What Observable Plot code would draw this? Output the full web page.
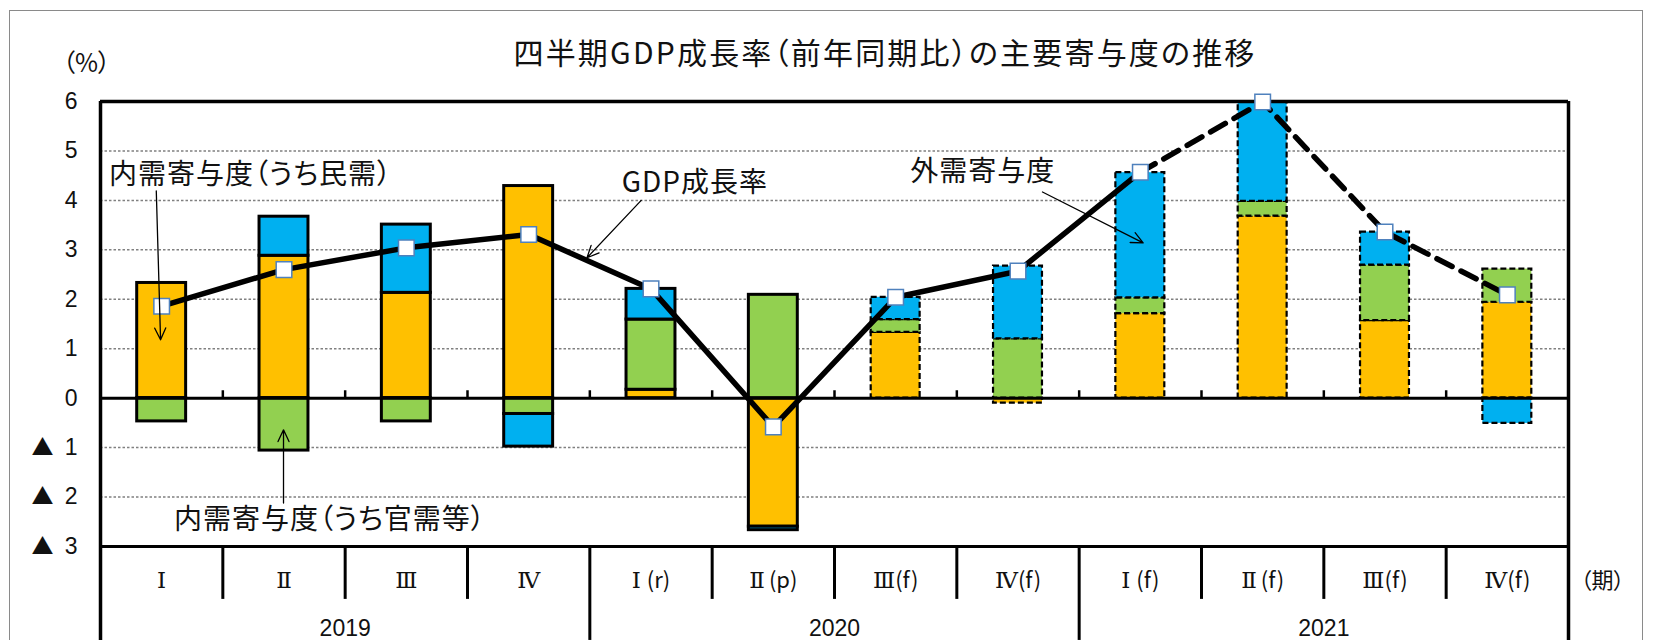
<!DOCTYPE html>
<html><head><meta charset="utf-8">
<script src="https://cdn.jsdelivr.net/npm/d3@7"></script>
<script src="https://cdn.jsdelivr.net/npm/@observablehq/plot@0.6"></script>
<style>
html,body{margin:0;padding:0;background:#fff;overflow:hidden;}
#wrap{position:relative;width:1656px;height:640px;}
#frame{position:absolute;left:9px;top:10px;width:1634px;height:700px;border:1.5px solid #8a8a8a;box-sizing:border-box;}
#title{position:absolute;left:885px;top:35px;transform:translateX(-50%);white-space:nowrap;font-family:"Noto Sans CJK JP";font-size:30px;line-height:32px;color:#111;font-feature-settings:"palt";letter-spacing:2.2px;}
#chart{position:absolute;left:0;top:0;}
#chart svg text{font-feature-settings:"palt";}
</style></head>
<body><div id="wrap"><div id="frame"></div><div id="chart"></div><div id="title">四半期GDP成長率（前年同期比）の主要寄与度の推移</div></div>
<script>
// ---- data ----
const quarters = ["Ⅰ","Ⅱ","Ⅲ","Ⅳ","Ⅰ(r)","Ⅱ(p)","Ⅲ(f)","Ⅳ(f)","Ⅰ(f)","Ⅱ(f)","Ⅲ(f)","Ⅳ(f)"];
const years = ["2019","2020","2021"];
const forecast = [false,false,false,false,false,false,true,true,true,true,true,true];
const privateDemand = [2.33, 2.88, 2.13, 4.29, 0.17, -2.60, 1.33, -0.10, 1.71, 3.68, 1.57, 1.94];
const publicDemand  = [-0.47, -1.06, -0.47, -0.32, 1.42, 2.09, 0.26, 1.20, 0.32, 0.30, 1.12, 0.67];
const externalDemand = [0, 0.79, 1.38, -0.66, 0.62, -0.07, 0.45, 1.47, 2.53, 2.01, 0.67, -0.51];
const gdpGrowth = [1.86, 2.60, 3.04, 3.31, 2.21, -0.58, 2.04, 2.57, 4.57, 5.99, 3.36, 2.09];
const yTickValues = [6,5,4,3,2,1,0,-1,-2,-3];
const yTickLabels = ["6","5","4","3","2","1","0","▲ 1","▲ 2","▲ 3"];
const gridValues = [5,4,3,2,1,-1,-2];
const seriesColors = ["#FFC000","#92D050","#00B0F0"];
const labels = [
  {text:"内需寄与度（うち民需）", x:-0.43, y:4.52},
  {text:"内需寄与度（うち官需等）", x:0.10, y:-2.47},
  {text:"GDP成長率", x:3.76, y:4.36},
  {text:"外需寄与度", x:6.12, y:4.57}
];
const arrows = [
  {x1:-0.044, y1:4.19, x2:-0.009, y2:1.18},
  {x1:0.996, y1:-2.12, x2:0.996, y2:-0.64},
  {x1:3.92, y1:4.00, x2:3.477, y2:2.84},
  {x1:7.20, y1:4.17, x2:8.023, y2:3.14}
];

// ---- derived ----
const series = [privateDemand, publicDemand, externalDemand];
const segs = [];
quarters.forEach((q, i) => {
  let pos = 0, neg = 0;
  series.forEach((s, k) => {
    const v = s[i];
    if (v === 0) return;
    if (v > 0) { segs.push({i, y1: pos, y2: pos + v, fill: seriesColors[k], f: forecast[i]}); pos += v; }
    else { segs.push({i, y1: neg, y2: neg + v, fill: seriesColors[k], f: forecast[i]}); neg += v; }
  });
});
const gdp = gdpGrowth.map((v, i) => ({i, v}));
const idx = quarters.map((q, i) => i);
const yTicks = yTickValues.map((v, i) => {
  const parts = yTickLabels[i].split(" ");
  return {v, num: parts[parts.length - 1], tri: parts.length > 1 ? parts[0] : null};
});
const qBounds = d3.range(0.5, 11, 1);
const yearBounds = [3.5, 7.5];
const innerBounds = qBounds.filter(b => !yearBounds.includes(b));
const yBottom = -4.9, yQRow = -4.07, halfW = 0.2;
const numFont = "Liberation Sans, Noto Sans CJK JP";
const jpFont = "Noto Sans CJK JP";

const chart = Plot.plot({
  width: 1656, height: 640,
  marginLeft: 100, marginRight: 88, marginTop: 101, marginBottom: 94,
  x: {type: "linear", domain: [-0.5, 11.5], axis: null},
  y: {domain: [-3, 6], axis: null},
  color: {type: "identity"},
  style: {fontFamily: jpFont, overflow: "visible", background: "transparent"},
  marks: [
    Plot.ruleY(gridValues, {stroke: "#808080", strokeWidth: 1.5, strokeDasharray: "2.5,2"}),
    Plot.rect(segs.filter(d => !d.f), {x1: d => d.i - halfW, x2: d => d.i + halfW, y1: "y1", y2: "y2", fill: "fill", stroke: "black", strokeWidth: 3}),
    Plot.rect(segs.filter(d => d.f), {x1: d => d.i - halfW, x2: d => d.i + halfW, y1: "y1", y2: "y2", fill: "fill", stroke: "black", strokeWidth: 2.2, strokeDasharray: "6,3"}),
    Plot.ruleY([0], {stroke: "black", strokeWidth: 3}),
    Plot.ruleX(qBounds, {y1: 0, y2: 0.15, stroke: "black", strokeWidth: 2.5}),
    Plot.ruleY([6], {stroke: "black", strokeWidth: 3.5}),
    Plot.ruleY([-3], {stroke: "black", strokeWidth: 3}),
    Plot.ruleX([-0.5, 11.5], {y1: 6, y2: yBottom, stroke: "black", strokeWidth: 3.5}),
    Plot.ruleX(innerBounds, {y1: -3, y2: yQRow, stroke: "black", strokeWidth: 3}),
    Plot.ruleX(yearBounds, {y1: -3, y2: yBottom, stroke: "black", strokeWidth: 3}),
    Plot.line(gdp.filter(d => d.i <= 8), {x: "i", y: "v", stroke: "black", strokeWidth: 5.5}),
    Plot.line(gdp.filter(d => d.i >= 8), {x: "i", y: "v", stroke: "black", strokeWidth: 5.5, strokeDasharray: "17,10"}),
    Plot.dot(gdp, {x: "i", y: "v", symbol: "square", r: 8.8, fill: "white", stroke: "#4F81BD", strokeWidth: 1.5}),
    Plot.arrow(arrows, {x1: "x1", y1: "y1", x2: "x2", y2: "y2", stroke: "black", strokeWidth: 1.3, headLength: 15, headAngle: 50}),
    Plot.text(labels, {x: "x", y: "y", text: "text", textAnchor: "start", fontSize: 28, fill: "#111", className: "anno"}),
    Plot.text(yTicks, {x: -0.5, y: "v", text: "num", textAnchor: "end", dx: -23, fontSize: 23, fontFamily: numFont, fill: "#111"}),
    Plot.text(yTicks.filter(d => d.tri), {x: -0.5, y: "v", text: "tri", dx: -58, fontSize: 22, fontFamily: jpFont, fill: "#111"}),
    Plot.text(["（%）"], {x: -0.5, y: 6, text: d => d, dx: -14, dy: -38, fontSize: 25, fill: "#111"}),
    Plot.text(idx, {x: d => d, y: -3.69, text: d => quarters[d], fontSize: 22, fill: "#111", className: "qlab"}),
    Plot.text(years, {x: (d, i) => 1.5 + 4 * i, y: -4.66, text: d => d, fontSize: 23, fontFamily: numFont, fill: "#111"}),
    Plot.text(["（期）"], {x: 11.5, y: -3.69, text: d => d, dx: 34, fontSize: 22, fill: "#111"})
  ]
});
d3.select(chart).selectAll(".anno text").style("letter-spacing", "1px");
// style the Roman numerals in a serif face, keep the suffix in sans
const numeralGap = {"Ⅰ": 6, "Ⅱ": 4, "Ⅲ": 0, "Ⅳ": 0};
d3.select(chart).selectAll(".qlab text").each(function() {
  const t = d3.select(this);
  const s = t.text();
  const num = s.slice(0, 1), rest = s.slice(1);
  t.text(null);
  t.append("tspan").attr("font-family", "DejaVu Serif, Liberation Serif, serif").attr("font-size", 23).text(num);
  if (rest) t.append("tspan").attr("font-family", jpFont).attr("dx", numeralGap[num] || 0).text(rest);
});
document.getElementById("chart").appendChild(chart);
</script></body></html>
